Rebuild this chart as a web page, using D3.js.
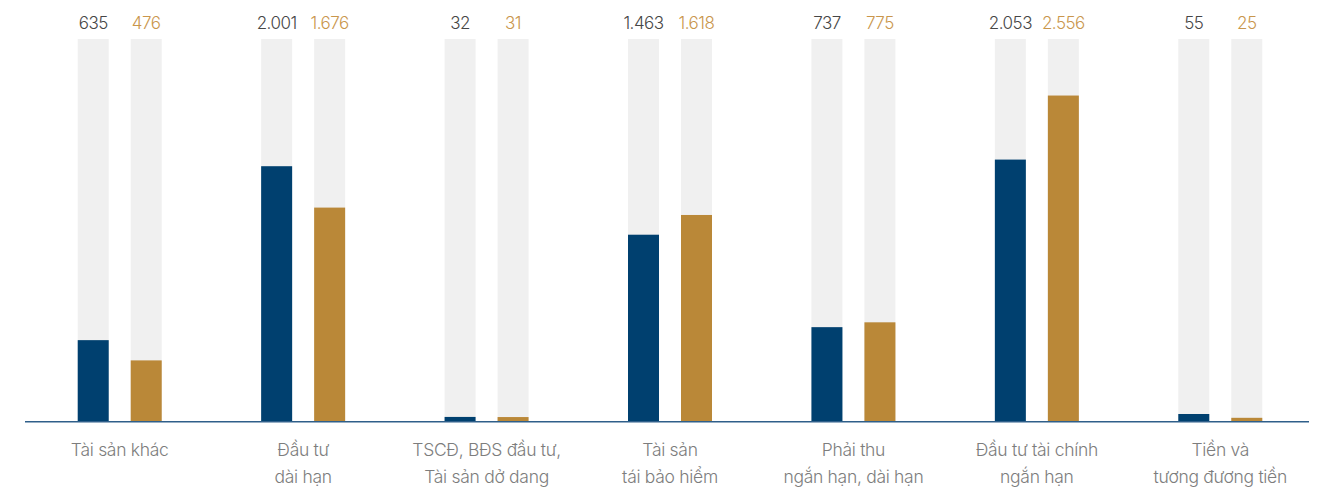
<!DOCTYPE html>
<html>
<head>
<meta charset="utf-8">
<script src="https://cdn.jsdelivr.net/npm/d3@7"></script>
<style>
  html, body { margin: 0; padding: 0; background: #ffffff; }
  svg { display: block; font-family: Inter, "Noto Sans", sans-serif; }
</style>
</head>
<body>
<svg id="chart" width="1326" height="487"></svg>
<script>
// Category labels (two lines where the label wraps)
const categories = [
  ["Tài sản khác"],
  ["Đầu tư", "dài hạn"],
  ["TSCĐ, BĐS đầu tư,", "Tài sản dở dang"],
  ["Tài sản", "tái bảo hiểm"],
  ["Phải thu", "ngắn hạn, dài hạn"],
  ["Đầu tư tài chính", "ngắn hạn"],
  ["Tiền và", "tương đương tiền"]
];
// Two periods per category
const seriesA = [635, 2001, 32, 1463, 737, 2053, 55];
const seriesB = [476, 1676, 31, 1618, 775, 2556, 25];
const seriesKeys = ["a", "b"];
const scaleMax = 3000;

const svg = d3.select("#chart");
const baseY = 421;
const topY = 39;

const x = d3.scaleBand()
  .domain(d3.range(categories.length))
  .range([28, 1312]);

const xs = d3.scaleBand()
  .domain(seriesKeys)
  .range([-42, 42])
  .paddingInner(0.415);

const y = d3.scaleLinear()
  .domain([0, scaleMax])
  .range([baseY, topY]);

const fills = { a: "#00406f", b: "#ba8838" };
const textFills = { a: "#464646", b: "#c9964c" };

const rows = categories.map((c, i) => ({
  i, label: c,
  vals: [{ k: "a", v: seriesA[i] }, { k: "b", v: seriesB[i] }]
}));

const fmt = v => d3.format(",")(v).replace(/,/g, ".");

const g = svg.selectAll("g.cat").data(rows).join("g")
  .attr("class", "cat")
  .attr("transform", d => `translate(${x(d.i) + x.bandwidth() / 2},0)`);

// grey track behind each bar
g.selectAll("rect.track").data(d => d.vals).join("rect")
  .attr("class", "track")
  .attr("x", d => xs(d.k))
  .attr("width", xs.bandwidth())
  .attr("y", y(scaleMax))
  .attr("height", y(0) - y(scaleMax))
  .attr("fill", "#f0f0f0");

// value bars
g.selectAll("rect.bar").data(d => d.vals).join("rect")
  .attr("class", "bar")
  .attr("x", d => xs(d.k))
  .attr("width", xs.bandwidth())
  .attr("y", d => y(d.v))
  .attr("height", d => y(0) - y(d.v))
  .attr("fill", d => fills[d.k]);

// value labels above the tracks
g.selectAll("text.val").data(d => d.vals).join("text")
  .attr("class", "val")
  .attr("x", d => xs(d.k) + xs.bandwidth() / 2)
  .attr("y", 29)
  .attr("text-anchor", "middle")
  .attr("font-size", 17)
  .attr("font-weight", 300)
  .attr("letter-spacing", -0.5)
  .attr("fill", d => textFills[d.k])
  .text(d => fmt(d.v));

// category labels below the baseline
const lab = g.append("text")
  .attr("text-anchor", "middle")
  .attr("font-size", 17.5)
  .attr("font-weight", 300)
  .attr("letter-spacing", -0.3)
  .attr("fill", "#7d7d7d");
lab.selectAll("tspan").data(d => d.label).join("tspan")
  .attr("x", 0)
  .attr("y", (d, j) => 456 + j * 27)
  .text(d => d);

// baseline
svg.append("line")
  .attr("x1", 25).attr("x2", 1309)
  .attr("y1", baseY + 0.75).attr("y2", baseY + 0.75)
  .attr("stroke", "#2f5f8a")
  .attr("stroke-width", 1.5);
</script>
</body>
</html>
